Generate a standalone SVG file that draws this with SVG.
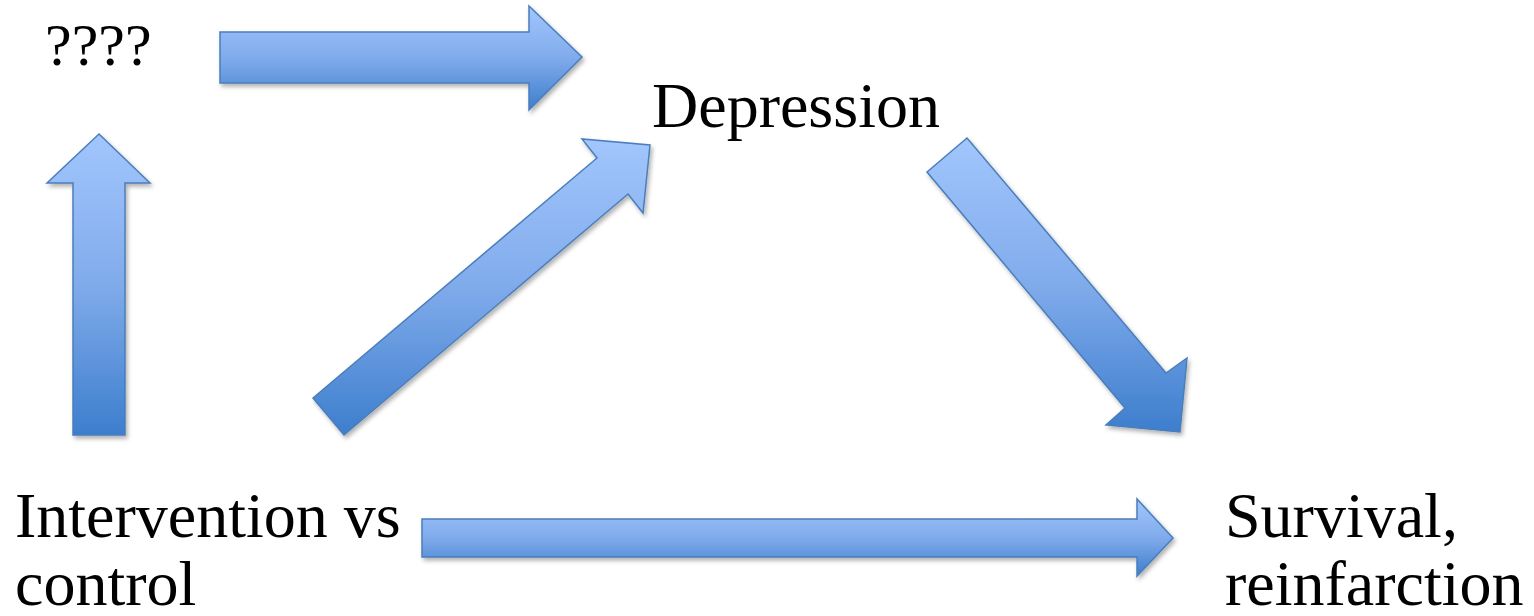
<svg xmlns="http://www.w3.org/2000/svg" width="1534" height="616" viewBox="0 0 1534 616">
<style>
.arrow{fill:url(#g);stroke:#4a7ebb;stroke-width:1.5;stroke-linejoin:miter;filter:url(#sh)}
.lbl{font-family:"Liberation Serif","Times New Roman",serif;font-size:64px;fill:#000}
</style>
<defs>
<linearGradient id="g" x1="0" y1="0" x2="0" y2="1">
<stop offset="0" stop-color="#a2c6fd"/>
<stop offset="0.5" stop-color="#80abeb"/>
<stop offset="1" stop-color="#3d7ecd"/>
</linearGradient>
<filter id="sh" x="-10%" y="-10%" width="130%" height="130%">
<feDropShadow dx="2" dy="3" stdDeviation="2" flood-color="#000" flood-opacity="0.3"/>
</filter>
</defs>
<g id="connectors">
<polygon class="arrow" points="220,32 529,32 529,6 582,57 529,110 529,83 220,83"/>
<polygon class="arrow" points="99,134 150,183 125,183 125,435 73,435 73,183 47,183"/>
<polygon class="arrow" points="313,398 597,158 582,139 650,145 643,213 628,194 344,435"/>
<polygon class="arrow" points="927,172 967,138 1166,373 1187,358 1180,432 1106,425 1125,408"/>
<polygon class="arrow" points="422,519 1137,519 1137,499 1173,538 1137,576 1137,557 422,557"/>
</g>
<g id="node-unknown"><text class="lbl" x="45" y="65" style="font-size:60px">????</text></g>
<g id="node-depression"><text class="lbl" x="652" y="127">Depression</text></g>
<g id="node-intervention"><text class="lbl" x="15" y="537"><tspan x="15">Intervention vs</tspan><tspan x="15" y="605">control</tspan></text></g>
<g id="node-survival"><text class="lbl" x="1225" y="537"><tspan x="1225">Survival,</tspan><tspan x="1225" y="605">reinfarction</tspan></text></g>
</svg>
